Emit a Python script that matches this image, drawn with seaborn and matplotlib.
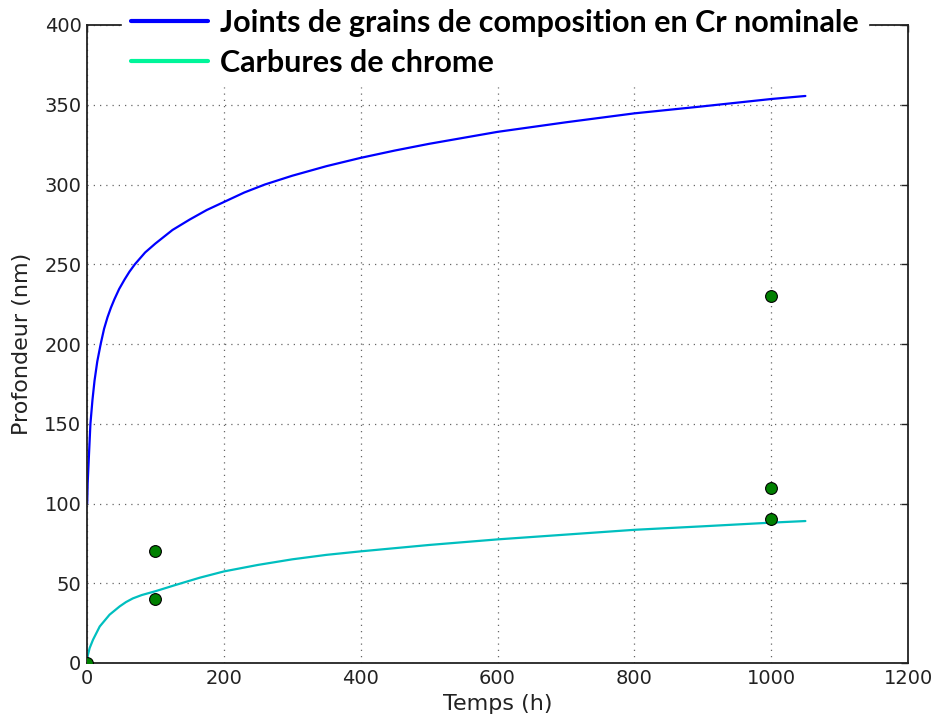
import pandas as pd
import matplotlib
matplotlib.use("Agg")
import matplotlib.pyplot as plt
import seaborn as sns
from matplotlib.lines import Line2D

# Values
t_joints = [0.3, 1, 2.5, 5, 8, 11, 15, 20, 25, 30, 35, 40, 47, 55, 62, 70, 85, 100, 125, 150, 175,
            200, 230, 260, 300, 350, 400, 450, 500, 600, 700, 800, 900, 1000, 1050]
p_joints = [100, 113, 127, 150, 165, 177, 189, 200, 209.6, 216.8, 222.8, 228, 234.5, 240.5, 245.3,
            250, 257.4, 263, 271.5, 278, 284, 289, 295, 300, 305.5, 311.5, 316.7, 321.3, 325.5,
            333, 339, 344.6, 349, 353.6, 355.5]

t_carb = [0, 1, 3.9, 8.8, 18.6, 33, 47.8, 57, 67, 80, 100, 130, 165, 200, 250, 300, 350, 400, 500,
          600, 700, 800, 900, 1000, 1050]
p_carb = [0, 4.5, 9.4, 14.6, 22.9, 30.3, 35.5, 38.2, 40.5, 42.6, 45, 49, 53.5, 57.4, 61.5, 65, 67.8,
          70, 74, 77.5, 80.5, 83.5, 85.7, 88, 89]

t_mes = [0, 100, 100, 1000, 1000, 1000]
p_mes = [0, 70, 40, 230, 110, 90]

legend_labels = ["Joints de grains de composition en Cr nominale", "Carbures de chrome"]

df_j = pd.DataFrame({"Temps": t_joints, "Profondeur": p_joints})
df_c = pd.DataFrame({"Temps": t_carb, "Profondeur": p_carb})
df_m = pd.DataFrame({"Temps": t_mes, "Profondeur": p_mes})

sns.set_theme(style="whitegrid")
plt.rcParams["font.family"] = ["DejaVu Sans"]

fig = plt.figure(figsize=(9.36, 7.15), dpi=100)
ax = fig.add_axes([87 / 936, 1 - 663 / 715, (908 - 87) / 936, (663 - 25) / 715])

sns.lineplot(data=df_j, x="Temps", y="Profondeur", color="#0000ff", lw=1.6, ax=ax, sort=False)
sns.lineplot(data=df_c, x="Temps", y="Profondeur", color="#00bfbf", lw=1.6, ax=ax, sort=False)
sns.scatterplot(data=df_m, x="Temps", y="Profondeur", color="#008000", edgecolor="black",
                linewidth=0.8, s=72, ax=ax, zorder=4)

ax.set_xlim(0, 1200)
ax.set_ylim(0, 400)
ax.set_xticks(range(0, 1201, 200))
ax.set_yticks(range(0, 401, 50))
ax.grid(True, linestyle=(0, (1, 4)), color="0.4", linewidth=0.9)
for s in ax.spines.values():
    s.set_color("#222222")
    s.set_linewidth(1.3)
ax.tick_params(direction="in", length=5, width=1, color="#222222", top=True, right=True,
               labelsize=14, labelcolor="#222222", pad=4)
ax.set_xlabel("Temps (h)", fontsize=16, color="#222222", labelpad=5)
ax.set_ylabel("Profondeur (nm)", fontsize=16, color="#222222", labelpad=9)

handles = [Line2D([], [], color="#0000ff", lw=3),
           Line2D([], [], color="#00f59a", lw=3)]
leg = ax.legend(handles, legend_labels, loc="upper left", bbox_to_anchor=(122 / 936, 1.0),
                bbox_transform=fig.transFigure, frameon=True, fancybox=False,
                prop={"family": "Lato", "weight": "bold", "size": 22},
                handlelength=2.5, handletextpad=0.4, labelspacing=0.38,
                borderpad=0.3, borderaxespad=0)
leg.get_frame().set_edgecolor("white")
leg.get_frame().set_facecolor("white")
leg.get_frame().set_alpha(1)
for txt in leg.get_texts():
    txt.set_color("black")

fig.savefig("out.png", dpi=100)
